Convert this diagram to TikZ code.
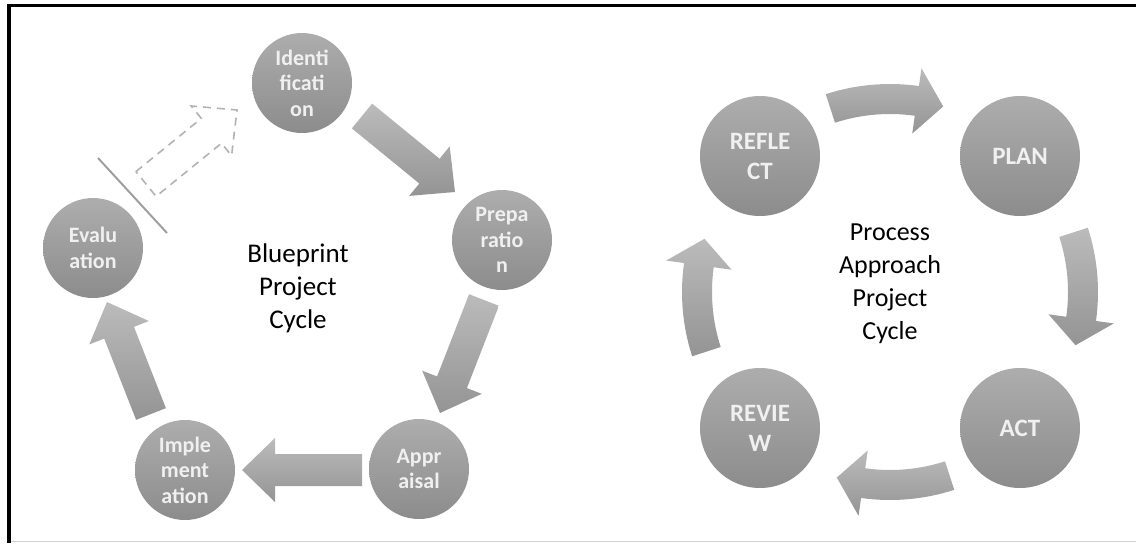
\documentclass[tikz,border=0pt]{standalone}
\usepackage{fontspec}
\setmainfont{Carlito}
\usetikzlibrary{calc}

\definecolor{balltop}{HTML}{ADADAD}
\definecolor{ballbot}{HTML}{8C8C8C}
\definecolor{arrtop}{HTML}{BBBBBB}
\definecolor{arrbot}{HTML}{949494}

% 粗箭头: #2 尾部中点, #3 箭头尖
\newcommand{\blockarrow}[3][]{%
  \coordinate (hb) at ($(#3)!16.5pt!(#2)$);
  \path[#1] ($(#2)!8pt!90:(#3)$) -- ($(hb)!8pt!-90:(#2)$) -- ($(hb)!16pt!-90:(#2)$)
    -- (#3) -- ($(hb)!16pt!90:(#2)$) -- ($(hb)!8pt!90:(#2)$) -- ($(#2)!8pt!-90:(#3)$) -- cycle;
}
% 弧形箭头, #1 = 所在方向的角度
\newcommand{\arcarrow}[1]{%
  \path[bodyarrow] ($(cen)+({#1+18}:208)$) arc[start angle={#1+18}, end angle={#1-8}, radius=208]
    -- ($(cen)+({#1-8}:226)$) -- ($(cen)+({#1-16}:193)$) -- ($(cen)+({#1-8}:160)$)
    -- ($(cen)+({#1-8}:178)$) arc[start angle={#1-8}, end angle={#1+18}, radius=178] -- cycle;
}

\begin{document}
\begin{tikzpicture}[x=0.5pt, y=0.5pt,
  stage/.style={circle, minimum size=50pt, inner sep=0pt, top color=balltop, bottom color=ballbot,
    text=white!94!black, font=\fontsize{11}{12.8}\selectfont\bfseries, align=center},
  phase/.style={stage, minimum size=60pt, font=\fontsize{12.5}{15}\selectfont\bfseries},
  bodyarrow/.style={top color=arrtop, bottom color=arrbot},
  ghostarrow/.style={draw=gray!60, dash pattern=on 4pt off 3pt, line width=0.8pt},
  title/.style={align=center, font=\fontsize{13.5}{16.5}\selectfont}]
  \useasboundingbox (0,0) rectangle (1136,543);
  % 边框: 左, 上, 下
  \draw[line width=2pt] (9,0) -- (9,538);
  \draw[line width=1.75pt] (7,537.5) -- (1136,537.5);
  \draw[gray!35, line width=0.5pt] (11,1.5) -- (1136,1.5);

  % 左图: Blueprint
  \node[stage] (ident) at (302,460) {Identi\\ficati\\on};
  \node[stage] (prep) at (502,303) {Prepa\\ratio\\n};
  \node[stage] (appr) at (419,74) {Appr\\aisal};
  \node[stage] (impl) at (185,73) {Imple\\ment\\ation};
  \node[stage] (eval) at (93,295) {Evalu\\ation};
  \node[title] (blue) at (298,255) {Blueprint\\Project\\Cycle};

  \coordinate (t1) at (362,427); \coordinate (h1) at (455,351);
  \coordinate (t2) at (484,243); \coordinate (h2) at (440,130);
  \coordinate (t3) at (362,73);  \coordinate (h3) at (242,73);
  \coordinate (t4) at (151,129); \coordinate (h4) at (107,241);
  \blockarrow[bodyarrow]{t1}{h1}
  \blockarrow[bodyarrow]{t2}{h2}
  \blockarrow[bodyarrow]{t3}{h3}
  \blockarrow[bodyarrow]{t4}{h4}
  % 虚线箭头 Evaluation -> Identification, 以及挡线
  \coordinate (t5) at (146,359); \coordinate (h5) at (237,433);
  \blockarrow[ghostarrow]{t5}{h5}
  \coordinate (s1) at (98,385); \coordinate (s2) at (167,310);
  \draw[gray!75, line width=1pt] (s1) -- (s2);

  % 右图: Process Approach
  \coordinate (cen) at (890,251);
  \node[phase] (reflect) at (760,387) {REFLE\\CT};
  \node[phase] (plan) at (1020,387) {PLAN};
  \node[phase] (act) at (1020,115) {ACT};
  \node[phase] (review) at (760,115) {REVIE\\W};
  \node[title, font=\fontsize{13}{16.5}\selectfont] (proc) at (890,259) {Process\\Approach\\Project\\Cycle};
  \foreach \a in {90,0,-90,180} {\arcarrow{\a}}
\end{tikzpicture}
\end{document}
